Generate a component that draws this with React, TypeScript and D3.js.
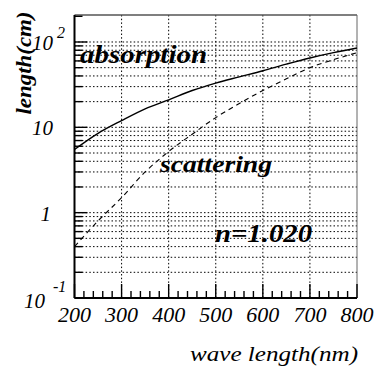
import React from 'react';
import * as d3 from 'd3';

// wavelength samples (nm)
const wavelengths = [200, 250, 300, 350, 400, 450, 500, 550, 600, 650, 700, 750, 800];
// absorption length (cm)
const absorption = [5.5, 8.5, 12, 16.5, 21, 27, 33, 39, 46, 55, 65, 75, 85];
// scattering length (cm)
const scattering = [0.4, 0.8, 1.5, 3, 5.2, 8.3, 13, 19, 27, 37, 50, 62, 75];

const xTickLabels = ['200', '300', '400', '500', '600', '700', '800'];
const xGrid = [300, 400, 500, 600, 700];
// y labels: [value, base, exponent]
const yTickLabels: [number, string, string][] = [
  [100, '10', '2'],
  [10, '10', ''],
  [1, '1', ''],
  [0.1, '10', '-1'],
];

const W = 384;
const H = 369;
const left = 74.5, right = 357, top = 15, bottom = 298;

const x = d3.scaleLinear().domain([200, 800]).range([left, right]);
const y = d3.scaleLog().domain([0.1, 200]).range([bottom, 16.3]);

const txt = (size: number): React.CSSProperties => ({
  fontFamily: "'Liberation Serif'",
  fontStyle: 'italic',
  fontSize: size + 'px',
});
const bold = (size: number): React.CSSProperties => ({
  fontFamily: "'Liberation Serif'",
  fontStyle: 'italic',
  fontWeight: 700,
  fontSize: size + 'px',
});

const line = d3.line<number>()
  .x((_, i) => x(wavelengths[i]))
  .y(d => y(d))
  .curve(d3.curveMonotoneX);

const isDecade = (v: number) => Math.abs(Math.log10(v) - Math.round(Math.log10(v))) < 1e-6;

const App = () => {
  const yTicks = y.ticks();
  const xMinor = x.ticks(30);

  return (
    <svg width={W} height={H} style={{ position: 'absolute', left: 0, top: 0 }}>
      {/* dotted grid */}
      {yTicks.filter(v => v <= 100).map(v => (
        <line key={'gy' + v} x1={left} x2={right} y1={y(v)} y2={y(v)}
          stroke="#000" strokeWidth={1} strokeDasharray="1.5,2.2" />
      ))}
      {xGrid.map(v => (
        <line key={'gx' + v} x1={x(v)} x2={x(v)} y1={top} y2={bottom}
          stroke="#000" strokeWidth={1} strokeDasharray="1.5,2.2" />
      ))}

      {/* frame */}
      <line x1={left} x2={right} y1={top} y2={top} stroke="#555" strokeWidth={1.3} />
      <line x1={right} x2={right} y1={top} y2={bottom} stroke="#666" strokeWidth={1} />

      {/* ticks */}
      {yTicks.map(v => (
        <line key={'ty' + v} x1={left} x2={left + (isDecade(v) ? 13 : 8)} y1={y(v)} y2={y(v)}
          stroke="#000" strokeWidth={1.4} />
      ))}
      {xMinor.map(v => (
        <line key={'tx' + v} x1={x(v)} x2={x(v)} y1={bottom} y2={bottom - (v % 100 === 0 ? 14 : 7)}
          stroke="#000" strokeWidth={1.4} />
      ))}

      {/* axes */}
      <line x1={left} x2={left} y1={top} y2={bottom} stroke="#000" strokeWidth={2} />
      <line x1={left} x2={right} y1={bottom} y2={bottom} stroke="#000" strokeWidth={2} />

      {/* curves */}
      <path d={line(absorption) || ''} fill="none" stroke="#000" strokeWidth={1.4} />
      <path d={line(scattering) || ''} fill="none" stroke="#000" strokeWidth={1.1} strokeDasharray="5,4" />

      {/* x tick labels */}
      {xTickLabels.map(t => (
        <text key={'lx' + t} x={x(+t)} y={322} textAnchor="middle" style={txt(22)}>{t}</text>
      ))}

      {/* y tick labels */}
      {yTickLabels.map(([v, base, exp]) => {
        const yy = y(v);
        if (exp === '2') {
          return (
            <g key={'ly' + v}>
              <text x={53} y={yy + 8} textAnchor="end" style={txt(21)}>{base}</text>
              <text x={57} y={yy - 4} style={txt(16)}>{exp}</text>
            </g>
          );
        }
        if (exp === '-1') {
          return (
            <g key={'ly' + v}>
              <text x={45} y={yy + 10} textAnchor="end" style={txt(21)}>{base}</text>
              <text x={53} y={yy - 6} style={txt(16)}>{exp}</text>
            </g>
          );
        }
        return (
          <text key={'ly' + v} x={base === '1' ? 51 : 53} y={yy + 8} textAnchor="end" style={txt(21)}>{base}</text>
        );
      })}

      {/* annotations */}
      <text x={80} y={63} textLength={127} lengthAdjust="spacingAndGlyphs" style={bold(25)}>absorption</text>
      <text x={160} y={172} textLength={112} lengthAdjust="spacingAndGlyphs" style={bold(24)}>scattering</text>
      <text x={215} y={242} textLength={97} lengthAdjust="spacingAndGlyphs" style={bold(25)}>n=1.020</text>

      {/* axis titles */}
      <text transform="translate(31,63) rotate(-90)" textAnchor="middle" textLength={103}
        lengthAdjust="spacingAndGlyphs" style={bold(22)}>length(cm)</text>
      <text x={190} y={361} textLength={168} lengthAdjust="spacingAndGlyphs" style={txt(22)}>wave length(nm)</text>
    </svg>
  );
};

export default App;
